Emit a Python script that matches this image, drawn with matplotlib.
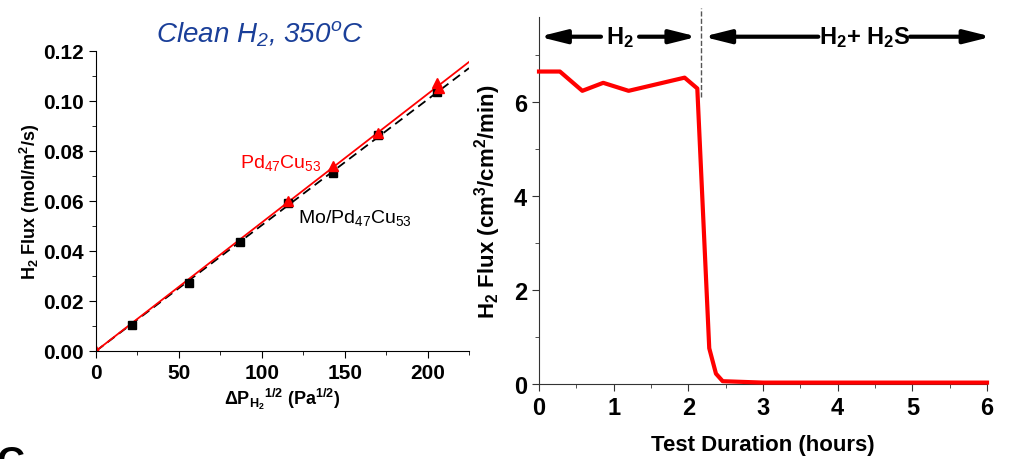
import numpy as np
import matplotlib
matplotlib.use('Agg')
import matplotlib.pyplot as plt
from matplotlib.ticker import MultipleLocator, FormatStrFormatter

plt.rcParams['font.family'] = ['Liberation Sans', 'DejaVu Sans']
plt.rcParams['mathtext.default'] = 'regular'

# left panel: flux vs sqrt pressure difference
x_mo = [21.7, 56, 87, 116, 143, 170, 206]
y_mo = [0.0104, 0.0272, 0.0436, 0.0590, 0.0712, 0.0862, 0.1035]
x_pdcu = [0, 116, 143, 170, 206, 207]
y_pdcu = [0.0, 0.0598, 0.0740, 0.0870, 0.1070, 0.1050]

# right panel: flux vs time
t_hours = [0, 0.28, 0.58, 0.86, 1.2, 1.95, 2.12, 2.28, 2.37, 2.46, 3.0, 6.0]
flux = [6.64, 6.64, 6.23, 6.40, 6.23, 6.51, 6.28, 0.76, 0.22, 0.06, 0.03, 0.03]
t_switch = 2.17

fig = plt.figure(figsize=(10.09, 4.60), dpi=100)

# ---- left
ax1 = fig.add_axes([0.0951, 0.2348, 0.3697, 0.6522])
xf = np.array([0, 225])
k_mo = np.sum(np.array(x_mo) * np.array(y_mo)) / np.sum(np.array(x_mo) ** 2)
k_pd = np.sum(np.array(x_pdcu) * np.array(y_pdcu)) / np.sum(np.array(x_pdcu) ** 2)
ax1.plot(xf, k_mo * xf, 'k--', lw=1.3, dashes=(5, 3))
ax1.plot(xf, k_pd * xf, color='red', lw=1.3)
ax1.plot(x_mo, y_mo, 's', color='k', ms=6)
ax1.plot(x_pdcu, y_pdcu, '^', color='red', ms=7)
ax1.set_xlim(0, 225)
ax1.set_ylim(0, 0.12)
ax1.spines['top'].set_visible(False)
ax1.spines['right'].set_visible(False)
ax1.xaxis.set_major_locator(MultipleLocator(50))
ax1.xaxis.set_minor_locator(MultipleLocator(25))
ax1.yaxis.set_major_locator(MultipleLocator(0.02))
ax1.yaxis.set_minor_locator(MultipleLocator(0.01))
ax1.yaxis.set_major_formatter(FormatStrFormatter('%.2f'))
ax1.tick_params(which='major', length=5, labelsize=15)
ax1.tick_params(which='minor', length=3)
for lab in ax1.get_xticklabels() + ax1.get_yticklabels():
    lab.set_fontweight('bold')
ax1.set_xlabel('ΔP$_{H_2}$$^{1/2}$ (Pa$^{1/2}$)', fontsize=13, fontweight='bold')
ax1.set_ylabel('H$_2$ Flux (mol/m$^2$/s)', fontsize=13, fontweight='bold')
ax1.xaxis.set_label_coords(0.5, -0.115)
ax1.yaxis.set_label_coords(-0.145, 0.5)
ax1.text(87, 0.0755, 'Pd$_{47}$Cu$_{53}$', color='red', fontsize=14, va='center')
ax1.text(122, 0.0535, 'Mo/Pd$_{47}$Cu$_{53}$', color='k', fontsize=14, va='center')
fig.text(0.258, 0.925, 'Clean H$_2$, 350$^o$C', color='#1a3f99', fontsize=20,
         style='italic', ha='center', va='center')

# ---- right
ax2 = fig.add_axes([0.5342, 0.163, 0.444, 0.798])
ax2.plot(t_hours, flux, color='red', lw=3, clip_on=False, zorder=3)
ax2.vlines(t_switch, 6.1, 8.0, colors='#555555', linestyles='--', lw=1, clip_on=False)
ax2.set_xlim(0, 6)
ax2.set_ylim(0, 7.8)
ax2.spines['top'].set_visible(False)
ax2.spines['right'].set_visible(False)
for s in ['left', 'bottom']:
    ax2.spines[s].set_color('#333333')
ax2.xaxis.set_major_locator(MultipleLocator(1))
ax2.xaxis.set_minor_locator(MultipleLocator(0.5))
ax2.yaxis.set_major_locator(MultipleLocator(2))
ax2.yaxis.set_minor_locator(MultipleLocator(1))
ax2.tick_params(which='major', length=5, labelsize=17, color='#333333')
ax2.tick_params(which='minor', length=3, color='#333333')
for lab in ax2.get_xticklabels() + ax2.get_yticklabels():
    lab.set_fontweight('bold')
ax2.set_xlabel('Test Duration (hours)', fontsize=16, fontweight='bold')
ax2.set_ylabel('H$_2$ Flux (cm$^3$/cm$^2$/min)', fontsize=16, fontweight='bold')
ax2.xaxis.set_label_coords(0.5, -0.135)
ax2.yaxis.set_label_coords(-0.08, 0.5)

ya = 7.38
arr = dict(arrowstyle='-|>,head_length=1.0,head_width=0.25', mutation_scale=16,
           lw=3, color='k', shrinkA=0, shrinkB=0)
ax2.annotate('', xy=(0, ya), xytext=(0.83, ya), arrowprops=arr, annotation_clip=False)
ax2.annotate('', xy=(2.12, ya), xytext=(1.34, ya), arrowprops=arr, annotation_clip=False)
ax2.text(1.08, ya, 'H$_2$', fontsize=17, fontweight='bold', ha='center', va='center')
ax2.annotate('', xy=(2.2, ya), xytext=(3.74, ya), arrowprops=arr, annotation_clip=False)
ax2.annotate('', xy=(6.06, ya), xytext=(4.97, ya), arrowprops=arr, annotation_clip=False)
ax2.text(4.36, ya, 'H$_2$+ H$_2$S', fontsize=17, fontweight='bold', ha='center', va='center')

# cut-off panel letter at bottom left
fig.text(-0.004, 0.030, 'C', fontsize=28, fontweight='bold', va='top', ha='left')

fig.savefig('out.png', dpi=100)
